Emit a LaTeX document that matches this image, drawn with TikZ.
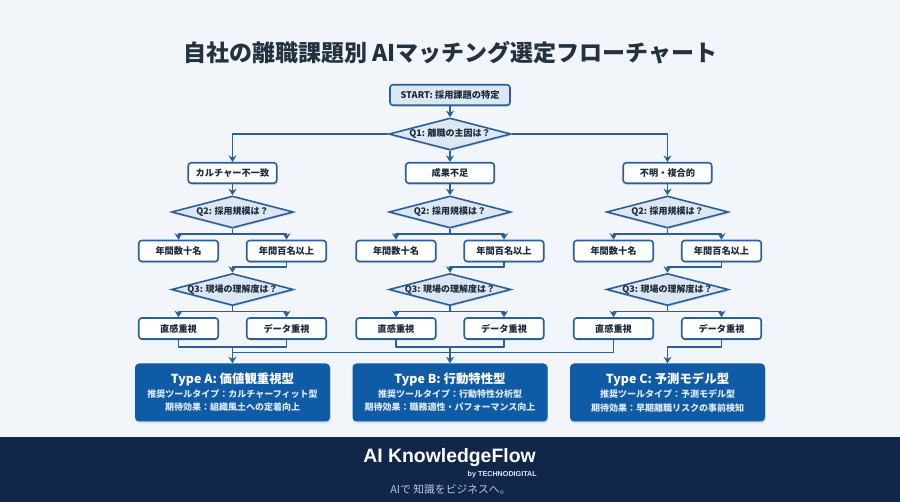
\documentclass[tikz,border=0pt]{standalone}
\usepackage{fontspec}
\setmainfont{Noto Sans CJK JP}
\newfontfamily\logofont{Liberation Sans}
\usetikzlibrary{shapes.geometric,arrows.meta,shadows}
\definecolor{bgc}{HTML}{F2F6FB}
\definecolor{linec}{HTML}{2A6096}
\definecolor{txtc}{HTML}{1B2A3C}
\definecolor{titlec}{HTML}{243240}
\definecolor{lightb}{HTML}{DCE7F3}
\definecolor{typec}{HTML}{0F5BA6}
\definecolor{footc}{HTML}{10264A}
\definecolor{subc}{HTML}{DDE8F5}
\definecolor{tagc}{HTML}{BCC9D9}
\tikzset{
  softshadow/.style={drop shadow={shadow xshift=0.6pt,shadow yshift=-1.6pt,opacity=.18,fill=linec}},
  startbox/.style={draw=linec,line width=1.6pt,fill=lightb,rounded corners=3pt,minimum width=120pt,minimum height=20.5pt,inner sep=0pt,font=\fontsize{9.2}{12}\selectfont\bfseries,text=txtc,softshadow},
  catbox/.style={draw=linec,line width=1.6pt,fill=white,rounded corners=3pt,minimum width=88.5pt,minimum height=20.5pt,inner sep=0pt,font=\fontsize{9.2}{12}\selectfont\bfseries,text=txtc,softshadow},
  optbox/.style={catbox,minimum width=79.5pt,minimum height=21pt},
  decide/.style={diamond,draw=linec,line width=1.6pt,fill=lightb,minimum width=122pt,minimum height=32pt,inner sep=0pt,font=\fontsize{9}{12}\selectfont\bfseries,text=txtc,softshadow},
  typebox/.style={fill=typec,rounded corners=4pt,minimum width=195pt,minimum height=58pt,inner sep=0pt,align=center,text=subc,font=\fontsize{9}{13.6}\selectfont\bfseries,softshadow},
  link/.style={draw=linec,line width=1.7pt,line join=round},
  arr/.style={link,-{Stealth[length=6.5pt,width=8pt]}},
}
\newcommand{\typetext}[3]{{\fontsize{12.4}{17.5}\selectfont\color{white}#1}\\#2\\#3}
\begin{document}
\begin{tikzpicture}[x=1pt,y=-1pt]
\useasboundingbox (0,0) rectangle (900,502);
\fill[bgc] (0,0) rectangle (900,502);
\fill[footc] (0,437) rectangle (900,502);

\node[font=\fontsize{23}{28}\selectfont\bfseries,text=titlec] (title) at (450.5,53) {自社の離職課題別 AIマッチング選定フローチャート};

\node[startbox] (start) at (450,95) {START: 採用課題の特定};
\node[decide] (q1) at (450,134) {\makebox[0pt]{Q1: 離職の主因は？}};

\foreach \c/\x/\cat in {a/232.5/カルチャー不一致,b/450/成果不足,c/667.5/不明・複合的}{
  \node[catbox] (cat\c) at (\x,173) {\cat};
  \node[decide] (qtwo\c) at (\x,212) {\makebox[0pt]{Q2: 採用規模は？}};
  \node[optbox] (few\c) at (\x-54,251) {年間数十名};
  \node[optbox] (many\c) at (\x+54,251) {年間百名以上};
  \node[decide] (qthree\c) at (\x,289.5) {\makebox[0pt]{Q3: 現場の理解度は？}};
  \node[optbox] (gut\c) at (\x-54,328.5) {直感重視};
  \node[optbox] (data\c) at (\x+54,328.5) {データ重視};
  \coordinate (bustwo\c) at (\x,234);
  \coordinate (busmany\c) at (\x,267);
  \coordinate (busthree\c) at (\x,311.5);
  \draw[arr] (cat\c) -- (qtwo\c);
  \draw[arr] (qtwo\c.south) -- (bustwo\c) -| (few\c.north);
  \draw[arr] (bustwo\c) -| (many\c.north);
  \draw[arr] (many\c.south) |- (busmany\c) -- (qthree\c.north);
  \draw[arr] (qthree\c.south) -- (busthree\c) -| (gut\c.north);
  \draw[arr] (busthree\c) -| (data\c.north);
}

\node[typebox] (typea) at (232.5,392.5) {\typetext{Type A: 価値観重視型}{推奨ツールタイプ：カルチャーフィット型}{期待効果：組織風土への定着向上}};
\node[typebox] (typeb) at (450,392.5) {\typetext{Type B: 行動特性型}{推奨ツールタイプ：行動特性分析型}{期待効果：職務適性・パフォーマンス向上}};
\node[typebox] (typec) at (667.5,392.5) {\typetext{Type C: 予測モデル型}{推奨ツールタイプ：予測モデル型}{期待効果：早期離職リスクの事前検知}};

\draw[arr] (start) -- (q1);
\draw[arr] (q1.west) -| (cata.north);
\draw[arr] (q1) -- (catb);
\draw[arr] (q1.east) -| (catc.north);

\coordinate (joina) at (232.5,347);
\coordinate (joinb) at (450,347);
\coordinate (joinc) at (667.5,347);
\coordinate (busa) at (232.5,352.5);
\coordinate (busb) at (450,352.5);
\draw[link] (guta.south) |- (joina) -| (dataa.south);
\draw[link] (gutb.south) |- (joinb) -| (datab.south);
\draw[arr] (joina) -- (typea.north);
\draw[arr] (joinb) -- (typeb.north);
\draw[link] (busa) -- (busb) -| (gutc.south);
\draw[arr] (datac.south) |- (joinc) -- (typec.north);

\node[font=\logofont\fontsize{19.4}{24}\selectfont\bfseries,text=white] (brand) at (449.5,458) {AI KnowledgeFlow};
\node[font=\logofont\fontsize{7.2}{9}\selectfont\bfseries,text=subc,anchor=east,inner sep=0pt] (by) at (537,475) {by TECHNODIGITAL};
\node[font=\fontsize{10.8}{12}\selectfont,text=tagc] (tag) at (450.5,489) {AIで 知識をビジネスへ。};
\end{tikzpicture}
\end{document}
